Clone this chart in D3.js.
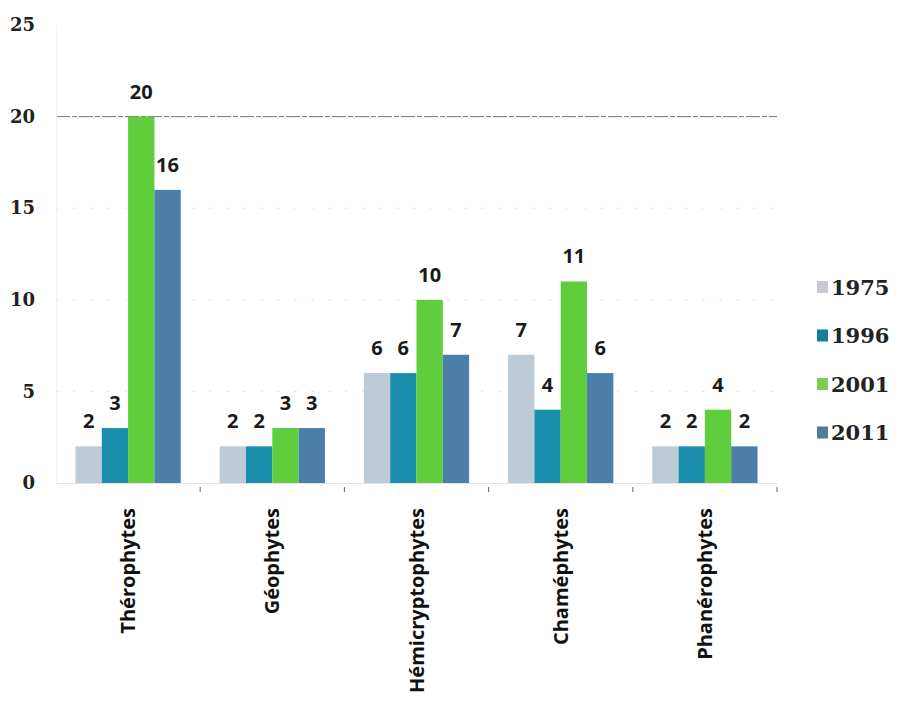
<!DOCTYPE html>
<html>
<head>
<meta charset="utf-8">
<script src="https://cdn.jsdelivr.net/npm/d3@7"></script>
<style>
  body { margin: 0; background: #fff; }
  svg { display: block; }
</style>
</head>
<body>
<svg width="900" height="702"></svg>
<script>
// data
const categories = ["Thérophytes", "Géophytes", "Hémicryptophytes", "Chaméphytes", "Phanérophytes"];
const years = ["1975", "1996", "2001", "2011"];
const v1975 = [2, 2, 6, 7, 2];
const v1996 = [3, 2, 6, 4, 2];
const v2001 = [20, 3, 10, 11, 4];
const v2011 = [16, 3, 7, 6, 2];
const yTicks = [0, 5, 10, 15, 20, 25];

const series = [v1975, v1996, v2001, v2011];
const barColors = ["#bccbd6", "#1b8eab", "#5fcd3c", "#4b7fa9"];
const legendColors = ["#c6cbd1", "#16809a", "#78cb5c", "#4f7f8e"];

const svg = d3.select("svg");
const margin = { top: 25, right: 123, bottom: 219, left: 56 };
const width = 900 - margin.left - margin.right;
const height = 702 - margin.top - margin.bottom;

const g = svg.append("g").attr("transform", `translate(${margin.left},${margin.top})`);

// scales
const x0 = d3.scaleBand().domain(categories).range([0, width]).paddingInner(0.27).paddingOuter(0.135);
const x1 = d3.scaleBand().domain(years).range([0, x0.bandwidth()]).padding(0);
const y = d3.scaleLinear().domain([0, 25]).range([height, 0]);

// grid lines, faint dashes
g.append("g")
  .selectAll("line")
  .data(yTicks.filter(d => d > 0 && d < 25))
  .enter()
  .append("line")
  .attr("x1", 0)
  .attr("x2", width)
  .attr("y1", d => y(d))
  .attr("y2", d => y(d))
  .attr("stroke", d => d === 20 ? "#777" : "#e6e6e6")
  .attr("stroke-width", 1)
  .attr("stroke-dasharray", d => d === 20 ? "14,2,5,2" : "3,14");

// y axis labels
const yAxis = d3.axisLeft(y).tickValues(yTicks).tickSize(0).tickPadding(21);
g.append("g")
  .call(yAxis)
  .call(a => a.select(".domain").attr("stroke", "#f2f2f2"))
  .selectAll("text")
  .attr("font-family", "DejaVu Serif")
  .attr("font-weight", "bold")
  .attr("font-size", 18)
  .attr("fill", "#222");

// x axis line
const xAxis = d3.axisBottom(x0).tickSize(0);
const xg = g.append("g").attr("transform", `translate(0,${height})`).call(xAxis);
xg.select(".domain").attr("stroke", "#e4e4e4");
xg.selectAll("text")
  .attr("font-family", "Open Sans")
  .attr("font-weight", "bold")
  .attr("font-size", 20)
  .attr("fill", "#111")
  .attr("text-anchor", "end")
  .attr("dy", "0.35em")
  .attr("transform", "rotate(-90)")
  .attr("x", -25)
  .attr("y", 0);

// little separator marks between groups
const seps = categories.slice(1).map(c => x0(c) - x0.step() * x0.paddingInner() / 2);
seps.push(width);
g.append("g")
  .selectAll("line")
  .data(seps)
  .enter()
  .append("line")
  .attr("x1", d => d)
  .attr("x2", d => d)
  .attr("y1", height + 4)
  .attr("y2", height + 9)
  .attr("stroke", "#666");

// bars
const groups = g.append("g")
  .selectAll("g")
  .data(categories)
  .enter()
  .append("g")
  .attr("transform", d => `translate(${x0(d)},0)`);

groups.selectAll("rect")
  .data((c, i) => years.map((yr, j) => ({ yr, j, v: series[j][i] })))
  .enter()
  .append("rect")
  .attr("x", d => x1(d.yr))
  .attr("y", d => y(d.v))
  .attr("width", x1.bandwidth())
  .attr("height", d => height - y(d.v))
  .attr("fill", d => barColors[d.j]);

groups.selectAll("text")
  .data((c, i) => years.map((yr, j) => ({ yr, j, v: series[j][i] })))
  .enter()
  .append("text")
  .attr("x", d => x1(d.yr) + x1.bandwidth() / 2)
  .attr("y", d => y(d.v) - 18)
  .attr("text-anchor", "middle")
  .attr("font-family", "Open Sans")
  .attr("font-weight", "bold")
  .attr("font-size", 20)
  .attr("fill", "#1a1a1a")
  .text(d => d.v);

// legend
const legend = svg.append("g").attr("transform", "translate(817,287)");
const items = legend.selectAll("g")
  .data(years)
  .enter()
  .append("g")
  .attr("transform", (d, i) => `translate(0,${i * 48.5})`);
items.append("rect")
  .attr("x", 0)
  .attr("y", -6)
  .attr("width", 11)
  .attr("height", 12)
  .attr("fill", (d, i) => legendColors[i]);
items.append("text")
  .attr("x", 14)
  .attr("y", 0)
  .attr("dy", "0.36em")
  .attr("font-family", "DejaVu Serif")
  .attr("font-weight", "bold")
  .attr("font-size", 21)
  .attr("fill", "#222")
  .text(d => d);
</script>
</body>
</html>
